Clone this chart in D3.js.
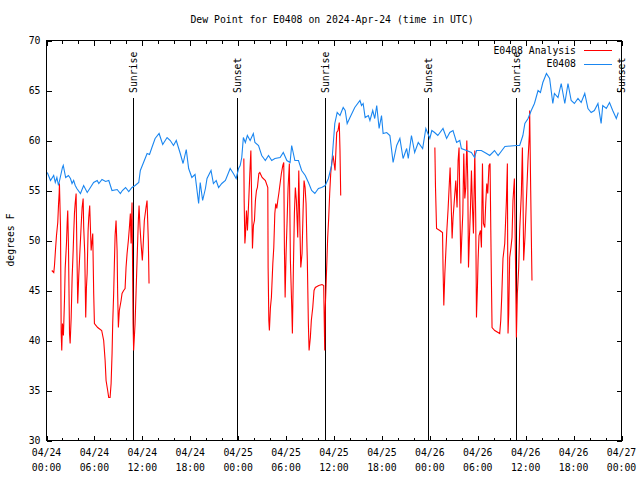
<!DOCTYPE html>
<html><head><meta charset="utf-8">
<script src="https://cdn.jsdelivr.net/npm/d3@7"></script>
<style>body{margin:0;background:#fff}</style>
</head><body><svg id="c" width="640" height="480"></svg>
<script>
// ---- data (hours since 2024-04-24 00:00 UTC) ----
const startUTC = Date.UTC(2024, 3, 24, 0, 0);
const endUTC = Date.UTC(2024, 3, 27, 0, 0);
const titleText = "Dew Point for E0408 on 2024-Apr-24 (time in UTC)";
const yLabel = "degrees F";
const seriesNames = ["E0408 Analysis", "E0408"];
const yTicks = [30, 35, 40, 45, 50, 55, 60, 65, 70];

const obsHours = [0.1,0.5,0.9,1.1,1.3,1.5,2.0,2.1,2.4,2.75,3.0,3.2,3.4,3.6,3.8,4.25,4.65,5.1,5.5,5.9,6.35,6.55,6.95,7.4,7.8,8.2,8.85,9.25,9.5,9.9,10.3,10.7,11.1,11.55,11.75,12.15,12.6,12.9,13.2,13.6,14.1,14.55,15.1,15.5,15.9,16.25,16.75,17.1,17.5,17.8,18.2,18.6,19.05,19.25,19.55,19.9,20.1,20.6,20.9,21.25,21.55,21.95,22.4,23.0,23.4,23.75,24.05,24.25,24.45,24.65,24.9,25.15,25.5,25.9,26.1,26.55,26.95,27.4,27.8,28.2,28.6,29.25,29.65,30.1,30.5,30.7,31.1,31.55,31.95,32.4,32.8,33.2,33.6,34.05,34.45,34.9,35.3,35.7,36.1,36.4,36.75,37.15,37.4,37.65,38.0,38.6,39.25,39.45,39.65,39.9,40.3,40.5,40.85,41.1,41.35,41.65,41.95,42.15,42.6,43.0,43.4,43.85,44.25,44.65,45.1,45.3,45.7,46.1,46.55,47.1,47.5,48.0,48.25,48.6,49.0,49.65,50.1,50.5,50.9,51.35,51.75,51.95,52.6,53.2,53.6,53.85,54.45,55.1,55.5,56.1,56.55,57.4,58.85,59.25,59.65,59.9,60.3,60.7,61.1,61.55,61.85,62.15,62.6,63.0,63.4,63.6,64.05,64.45,64.9,65.3,65.7,66.1,66.55,66.95,67.4,67.8,68.2,68.6,69.05,69.45,69.65,70.1,70.5,70.9,71.35,71.6];
const obsValues = [56.8,56.0,56.5,55.8,56.3,55.5,57.3,57.5,56.3,56.5,56.2,55.7,56.0,55.5,55.2,54.7,55.5,54.8,55.3,55.8,56.0,55.7,56.1,55.9,56.0,55.0,55.1,54.7,55.0,55.3,54.9,55.3,55.5,55.8,57.0,57.8,58.7,58.6,59.3,60.2,60.7,59.6,60.3,60.0,59.5,60.0,58.7,57.7,59.1,57.2,56.3,56.6,53.7,55.8,54.0,55.2,56.2,57.0,55.7,56.0,55.3,55.7,56.0,57.2,56.7,56.2,57.2,57.5,58.3,60.3,59.8,60.5,60.0,60.7,59.8,59.5,58.5,58.0,58.5,58.0,58.2,58.3,58.8,58.0,57.8,59.5,58.0,58.0,57.0,56.5,55.8,55.0,54.7,55.2,55.3,55.5,56.2,57.5,61.7,62.8,62.5,63.3,63.0,61.7,62.3,63.3,64.0,63.5,63.7,62.3,62.5,62.0,63.0,62.2,63.5,61.2,62.5,60.7,60.8,60.5,57.8,59.5,60.2,58.2,59.2,58.2,60.5,58.8,59.8,59.2,61.2,60.2,61.0,60.8,60.5,61.2,60.2,60.8,61.0,59.8,60.0,59.2,59.0,58.8,58.3,59.0,59.0,58.7,58.5,59.0,58.5,59.4,59.5,59.5,60.5,61.7,62.2,63.0,63.7,65.0,64.8,65.8,66.7,66.2,63.7,64.7,64.3,65.7,63.7,65.7,64.0,63.7,64.2,63.8,64.7,63.2,62.8,63.0,63.7,61.7,63.5,63.2,63.8,63.0,62.2,62.8];

// analysis series; null marks a gap between runs
const anaHours = [0.66,0.91,1.0,1.12,1.25,1.41,1.5,1.59,1.62,1.75,1.84,1.91,2.0,2.12,2.25,2.34,2.5,2.59,2.66,2.75,2.88,2.96,3.09,3.21,3.34,3.41,3.5,3.59,3.71,3.79,3.91,4.04,4.13,4.25,4.34,4.46,4.59,4.66,4.79,4.91,5.0,5.09,5.21,5.29,5.41,5.59,5.79,5.91,6.0,6.41,6.91,7.16,7.34,7.46,7.66,7.79,7.96,8.09,8.21,8.29,8.41,8.5,8.59,8.71,8.84,8.91,9.0,9.12,9.34,9.46,9.66,9.84,9.96,10.09,10.25,10.38,10.5,10.59,10.71,10.84,10.91,11.09,11.21,11.34,11.5,11.59,11.71,11.84,12.0,12.09,12.25,12.46,12.59,12.75,12.84,
 18.0,
 24.71,24.75,24.84,24.91,25.04,25.16,25.34,25.46,25.59,25.66,25.79,25.91,26.04,26.16,26.29,26.41,26.59,26.71,27.0,27.41,27.71,27.75,27.84,27.91,28.04,28.16,28.34,28.46,28.59,28.71,28.84,28.96,29.09,29.25,29.41,29.59,29.71,29.79,29.88,30.0,30.13,30.25,30.41,30.54,30.71,30.79,30.91,31.04,31.16,31.29,31.46,31.59,31.71,31.84,32.0,32.13,32.25,32.38,32.5,32.59,32.66,32.79,32.88,33.04,33.16,33.34,33.5,33.66,34.09,34.5,34.71,34.84,34.91,35.04,35.21,35.34,35.46,35.59,35.71,35.88,36.13,36.34,36.5,36.66,36.75,36.84,
 42.0,
 48.63,48.71,48.84,49.25,49.59,49.66,49.75,49.88,50.0,50.13,50.29,50.41,50.54,50.66,50.79,50.91,51.04,51.16,51.25,51.41,51.54,51.66,51.79,51.88,52.0,52.13,52.25,52.38,52.5,52.63,52.75,52.84,52.96,53.09,53.21,53.34,53.46,53.63,53.75,53.84,53.96,54.04,54.16,54.34,54.46,54.59,54.71,54.88,55.0,55.13,55.25,55.41,55.54,55.63,55.71,55.79,56.13,56.75,56.88,57.0,57.16,57.38,57.59,57.71,57.79,57.88,58.0,58.16,58.29,58.41,58.59,58.71,58.84,58.96,59.13,59.25,59.46,59.59,59.66,59.75,59.91,60.09,60.29,60.46,60.5,60.63,60.71,60.79];
const anaValues = [47.0,46.8,47.5,49.0,50.5,51.8,53.5,54.8,55.7,51.5,40.7,39.0,41.7,40.5,44.0,47.2,49.7,51.8,53.0,49.5,40.7,39.7,42.3,46.3,49.0,50.8,52.7,53.7,54.7,49.8,43.7,46.5,48.0,50.0,51.5,53.3,54.2,51.3,48.7,42.3,45.3,46.7,51.0,52.3,53.5,49.0,50.7,44.7,41.7,41.3,41.0,40.0,38.0,36.0,35.0,34.3,34.3,35.7,38.7,41.7,44.7,47.7,50.5,52.0,49.0,44.7,41.3,43.0,44.0,44.7,45.0,45.2,47.3,48.7,50.0,51.3,52.7,49.7,53.8,41.7,39.0,41.7,44.7,48.0,52.0,53.5,51.3,49.7,48.0,49.3,52.0,53.3,54.0,50.0,45.7,
 null,
 58.2,54.0,49.7,50.5,53.0,51.0,54.3,56.7,59.0,55.5,49.2,51.5,52.0,54.0,55.0,55.3,56.7,56.8,56.3,56.0,55.3,47.3,42.0,41.0,43.3,44.3,47.7,49.3,52.7,53.7,53.2,54.0,54.7,55.7,56.7,57.5,57.8,49.3,44.3,48.7,52.0,55.3,57.7,48.0,43.3,40.7,47.0,52.7,55.3,54.0,50.3,57.0,52.0,47.3,48.7,53.0,56.0,55.3,53.7,50.3,48.0,41.7,39.0,40.3,42.0,43.3,45.0,45.3,45.5,45.6,45.5,39.0,43.3,46.3,50.3,52.3,54.7,56.7,57.7,58.5,57.0,60.8,61.0,61.8,59.0,54.5,
 null,
 59.3,55.3,51.2,51.0,50.8,47.0,43.5,46.7,48.8,51.0,53.2,55.2,57.3,54.0,50.2,52.3,53.7,55.0,56.0,53.3,58.0,59.3,52.0,47.7,50.3,52.7,58.7,54.2,55.3,60.0,56.0,47.3,50.3,53.3,57.0,53.3,50.7,59.0,52.0,42.3,45.3,48.0,50.5,51.0,49.3,57.7,51.7,51.3,53.7,55.7,54.7,57.5,57.7,51.3,46.0,41.3,41.0,40.7,42.0,44.3,48.2,49.7,54.0,57.7,40.7,42.7,48.3,49.3,50.3,54.0,56.2,49.0,40.3,44.7,47.3,51.0,54.7,59.3,55.0,48.0,50.3,54.0,58.0,60.6,63.0,55.0,50.3,46.0];

const eventNames = ["Sunrise", "Sunset", "Sunrise", "Sunset", "Sunrise", "Sunset"];
const eventHours = [10.875, 23.875, 34.875, 47.79, 58.79, 71.875];

// ---- drawing ----
const H = 3600 * 1000;
const toDate = h => new Date(startUTC + h * H);
const FONT = "'DejaVu Sans Mono', 'Liberation Mono', monospace";
const FS = "9.8px";
const RED = "#ff0000", BLUE = "#1a86f0";

const svg = d3.select("#c");
svg.append("rect").attr("width", 640).attr("height", 480).attr("fill", "#fff");

const L = 46.5, R = 621.5, T = 40.5, B = 440.5;
const x = d3.scaleUtc().domain([new Date(startUTC), new Date(endUTC)]).range([L, R]);
const y = d3.scaleLinear().domain([30, 70]).range([B, T]);

function styleAxis(g) {
  g.select(".domain").remove();
  g.selectAll("line").attr("stroke", "#000").attr("shape-rendering", "crispEdges");
  g.attr("font-family", FONT).attr("font-size", FS);
  g.selectAll("text").attr("fill", "#000");
}

// x axes: minor (2h) & major (6h), bottom and top
svg.append("g").attr("transform", `translate(0,${B})`)
  .call(d3.axisBottom(x).ticks(d3.utcHour.every(2)).tickSize(-3).tickFormat("")).call(styleAxis);
svg.append("g").attr("transform", `translate(0,${B})`)
  .call(d3.axisBottom(x).ticks(d3.utcHour.every(6)).tickSize(-5).tickFormat("")).call(styleAxis);
svg.append("g").attr("transform", `translate(0,${T})`)
  .call(d3.axisTop(x).ticks(d3.utcHour.every(2)).tickSize(-3).tickFormat("")).call(styleAxis);
svg.append("g").attr("transform", `translate(0,${T})`)
  .call(d3.axisTop(x).ticks(d3.utcHour.every(6)).tickSize(-5).tickFormat("")).call(styleAxis);

// x labels two lines
const fmtD = d3.utcFormat("%m/%d"), fmtT = d3.utcFormat("%H:%M");
const xl = svg.append("g").attr("font-family", FONT).attr("font-size", FS).attr("fill", "#000");
x.ticks(d3.utcHour.every(6)).forEach(d => {
  const t = xl.append("text").attr("text-anchor", "middle");
  t.append("tspan").attr("x", x(d)).attr("y", 456).text(fmtD(d));
  t.append("tspan").attr("x", x(d)).attr("y", 470.5).text(fmtT(d));
});

// y axes
svg.append("g").attr("transform", `translate(${L},0)`)
  .call(d3.axisLeft(y).tickValues(yTicks).tickSize(-5).tickPadding(6).tickFormat(d3.format("d"))).call(styleAxis);
svg.append("g").attr("transform", `translate(${R},0)`)
  .call(d3.axisRight(y).tickValues(yTicks).tickSize(-5).tickFormat("")).call(styleAxis);

// sunrise / sunset markers
const ev = svg.append("g");
eventHours.forEach((h, i) => {
  const xx = Math.round(x(toDate(h))) + 0.5;
  ev.append("line").attr("x1", xx).attr("x2", xx).attr("y1", 98).attr("y2", B)
    .attr("stroke", "#000").attr("shape-rendering", "crispEdges");
  ev.append("text").attr("transform", `translate(${xx + 3.5},93) rotate(-90)`)
    .attr("font-family", FONT).attr("font-size", FS).attr("fill", "#000")
    .text(eventNames[i]);
});

// data lines
const obs = obsHours.map((h, i) => ({ t: toDate(h), v: obsValues[i] }));
const ana = anaHours.map((h, i) => ({ t: toDate(h), v: anaValues[i] }));
const line = d3.line().defined(d => d.v !== null).x(d => x(d.t)).y(d => y(d.v));

svg.append("path").datum(ana).attr("d", line).attr("fill", "none")
  .attr("stroke", RED).attr("stroke-width", 1.1);
svg.append("path").datum(obs).attr("d", line).attr("fill", "none")
  .attr("stroke", BLUE).attr("stroke-width", 1.1);

// frame
svg.append("rect").attr("x", L).attr("y", T).attr("width", R - L).attr("height", B - T)
  .attr("fill", "none").attr("stroke", "#000").attr("shape-rendering", "crispEdges");

// title
svg.append("text").attr("x", 332).attr("y", 23).attr("text-anchor", "middle")
  .attr("font-family", FONT).attr("font-size", FS).text(titleText);

// y label
svg.append("text").attr("transform", "translate(14,240) rotate(-90)").attr("text-anchor", "middle")
  .attr("font-family", FONT).attr("font-size", FS).text(yLabel);

// legend
const lg = svg.append("g").attr("font-family", FONT).attr("font-size", FS);
[RED, BLUE].forEach((c, i) => {
  const yy = 50 + i * 13.5;
  lg.append("text").attr("x", 576).attr("y", yy + 3.5).attr("text-anchor", "end").text(seriesNames[i]);
  lg.append("line").attr("x1", 584).attr("x2", 612).attr("y1", yy + 0.5).attr("y2", yy + 0.5)
    .attr("stroke", c).attr("shape-rendering", "crispEdges");
});
</script></body></html>
